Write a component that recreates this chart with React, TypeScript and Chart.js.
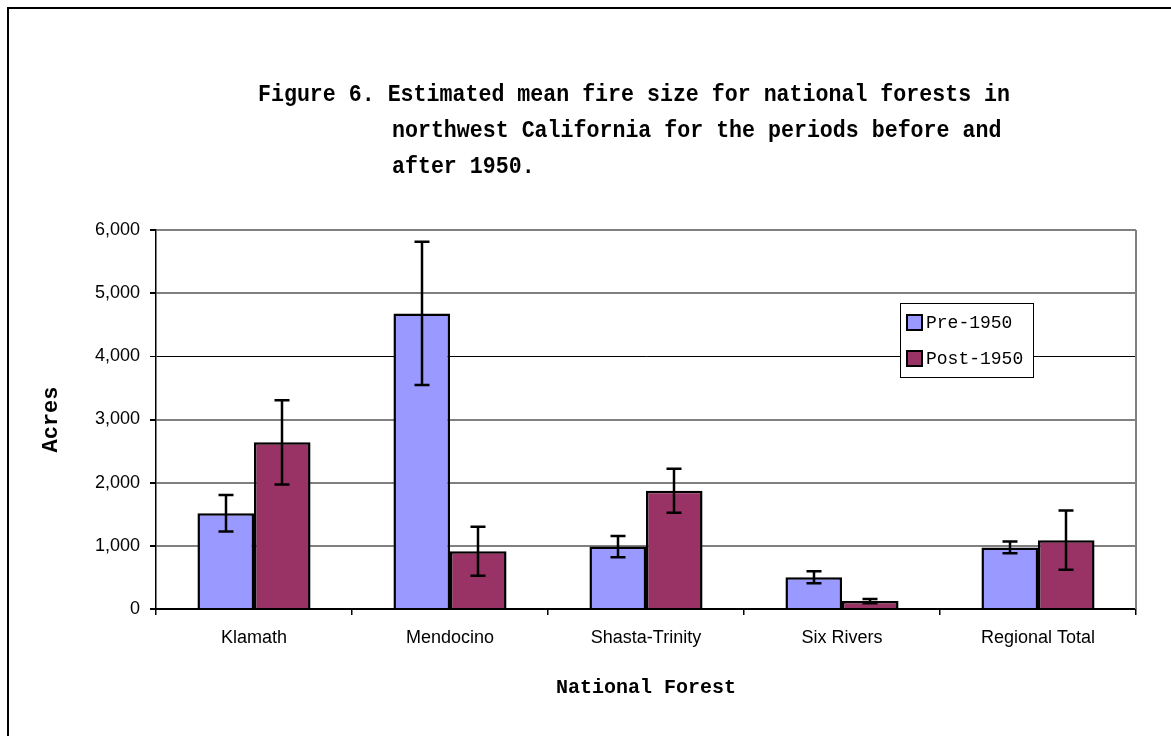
import React, { useEffect, useRef } from "react";
import { Chart, registerables } from "chart.js";

Chart.register(...registerables);

const categories = ["Klamath", "Mendocino", "Shasta-Trinity", "Six Rivers", "Regional Total"];
const seriesLabels = ["Pre-1950", "Post-1950"];
const preValues = [1515, 4680, 988, 501, 975];
const preErrors = [290, 1135, 169, 95, 93];
const postValues = [2638, 916, 1873, 126, 1090];
const postErrors = [668, 388, 348, 34, 470];
const seriesColors = ["#9999FF", "#993366"];
const yMin = 0;
const yMax = 6000;
const yStep = 1000;
const titleLines = [
  "Figure 6. Estimated mean fire size for national forests in",
  "northwest California for the periods before and",
  "after 1950.",
];
const yAxisTitle = "Acres";
const xAxisTitle = "National Forest";

const MONO = "'Liberation Mono', 'DejaVu Sans Mono', monospace";
const SANS = "'Liberation Sans', Arial, sans-serif";

const framePlugin = {
  id: "frame",
  beforeDraw(chart: any) {
    const { ctx, width, height } = chart;
    ctx.save();
    ctx.fillStyle = "#fff";
    ctx.fillRect(0, 0, width, height);
    ctx.strokeStyle = "#000";
    ctx.lineWidth = 2;
    ctx.beginPath();
    ctx.moveTo(8, height);
    ctx.lineTo(8, 8);
    ctx.lineTo(width, 8);
    ctx.stroke();
    ctx.restore();
  },
};

const decorPlugin = {
  id: "decor",
  beforeDatasetsDraw(chart: any) {
    const { ctx, chartArea } = chart;
    ctx.save();
    ctx.strokeStyle = "#808080";
    ctx.lineWidth = 2;
    ctx.beginPath();
    ctx.moveTo(chartArea.right, chartArea.top);
    ctx.lineTo(chartArea.right, chartArea.bottom);
    ctx.stroke();
    ctx.restore();
  },
  afterDatasetsDraw(chart: any) {
    const { ctx } = chart;
    const yScale = chart.scales.y;
    ctx.save();
    ctx.strokeStyle = "#000";
    ctx.lineWidth = 2.5;
    chart.data.datasets.forEach((ds: any, i: number) => {
      const meta = chart.getDatasetMeta(i);
      meta.data.forEach((bar: any, j: number) => {
        const v = ds.data[j];
        const e = ds.errors[j];
        const x = Math.round(bar.x);
        const yTop = yScale.getPixelForValue(v + e);
        const yBot = yScale.getPixelForValue(v - e);
        const cap = 7.5;
        ctx.beginPath();
        ctx.moveTo(x, yTop);
        ctx.lineTo(x, yBot);
        ctx.moveTo(x - cap, yTop);
        ctx.lineTo(x + cap, yTop);
        ctx.moveTo(x - cap, yBot);
        ctx.lineTo(x + cap, yBot);
        ctx.stroke();
      });
    });
    ctx.restore();
  },
  afterDraw(chart: any) {
    const { ctx, chartArea } = chart;
    ctx.save();
    // Title with hanging indent, slightly condensed
    ctx.fillStyle = "#000";
    ctx.font = `bold 24px ${MONO}`;
    ctx.textAlign = "left";
    ctx.textBaseline = "alphabetic";
    const w1 = ctx.measureText(titleLines[0]).width;
    const sx = 752 / w1;
    const drawLine = (t: string, x: number, y: number) => {
      ctx.save();
      ctx.translate(x, y);
      ctx.scale(sx, 1);
      ctx.fillText(t, 0, 0);
      ctx.restore();
    };
    drawLine(titleLines[0], 258, 101);
    drawLine(titleLines[1], 392, 137);
    drawLine(titleLines[2], 392, 173);

    // Axis titles
    ctx.font = `bold 22px ${MONO}`;
    ctx.textAlign = "center";
    ctx.textBaseline = "middle";
    ctx.save();
    ctx.translate(51, (chartArea.top + chartArea.bottom) / 2);
    ctx.rotate(-Math.PI / 2);
    ctx.fillText(yAxisTitle, 0, 0);
    ctx.restore();
    ctx.font = `bold 20px ${MONO}`;
    ctx.fillText(xAxisTitle, (chartArea.left + chartArea.right) / 2, 688);

    // Legend
    const lx = 900, ly = 303, lw = 133, lh = 74;
    ctx.fillStyle = "#fff";
    ctx.fillRect(lx, ly, lw, lh);
    ctx.strokeStyle = "#000";
    ctx.lineWidth = 1;
    ctx.strokeRect(lx + 0.5, ly + 0.5, lw, lh);
    ctx.font = `18px ${MONO}`;
    ctx.textAlign = "left";
    ctx.textBaseline = "middle";
    chart.data.datasets.forEach((ds: any, i: number) => {
      const sy = 315 + i * 36;
      ctx.fillStyle = ds.backgroundColor;
      ctx.fillRect(907, sy, 15, 15);
      ctx.strokeStyle = "#000";
      ctx.lineWidth = 2;
      ctx.strokeRect(907, sy, 15, 15);
      ctx.fillStyle = "#000";
      ctx.fillText(ds.label, 926, sy + 8);
    });
    ctx.restore();
  },
};

export default function App() {
  const ref = useRef<HTMLCanvasElement>(null);
  useEffect(() => {
    const canvas = ref.current!;
    const chart = new Chart(canvas, {
      type: "bar",
      data: {
        labels: categories,
        datasets: [
          {
            label: seriesLabels[0],
            data: preValues,
            errors: preErrors,
            backgroundColor: seriesColors[0],
            borderColor: "#000",
            borderWidth: 2.5,
            categoryPercentage: 0.577,
            barPercentage: 1,
          } as any,
          {
            label: seriesLabels[1],
            data: postValues,
            errors: postErrors,
            backgroundColor: seriesColors[1],
            borderColor: "#000",
            borderWidth: 2.5,
            categoryPercentage: 0.577,
            barPercentage: 1,
          } as any,
        ],
      },
      options: {
        responsive: false,
        animation: false,
        devicePixelRatio: 1,
        layout: { padding: { left: 0, top: 230, right: 35, bottom: 67 } },
        plugins: {
          legend: { display: false },
          title: { display: false },
          tooltip: { enabled: false },
        },
        scales: {
          x: {
            grid: {
              offset: true,
              drawOnChartArea: false,
              drawTicks: true,
              tickLength: 6,
              color: "#000",
              lineWidth: 1.5,
            },
            border: { color: "#000", width: 2 },
            ticks: {
              font: { family: SANS, size: 18 },
              color: "#000",
              padding: 12,
              maxRotation: 0,
              autoSkip: false,
            },
            afterFit: (s: any) => {
              s.height = 60;
            },
          },
          y: {
            min: yMin,
            max: yMax,
            ticks: {
              stepSize: yStep,
              callback: (v: any) => Number(v).toLocaleString("en-US"),
              font: { family: SANS, size: 18 },
              color: "#000",
              padding: 10,
            },
            grid: {
              color: (c: any) => (c.tick && c.tick.value === 4000 ? "#000" : "#808080"),
              lineWidth: (c: any) => (c.tick && c.tick.value === 4000 ? 1 : 2),
              tickColor: "#000",
              tickLength: 6,
            },
            border: { color: "#000", width: 1.5 },
            afterFit: (s: any) => {
              s.width = 156;
            },
          },
        },
      } as any,
      plugins: [framePlugin, decorPlugin],
    });
    return () => chart.destroy();
  }, []);
  return (
    <div style={{ position: "absolute", left: 0, top: 0, width: 1171, height: 736 }}>
      <canvas ref={ref} width={1171} height={736} style={{ display: "block" }} />
    </div>
  );
}
